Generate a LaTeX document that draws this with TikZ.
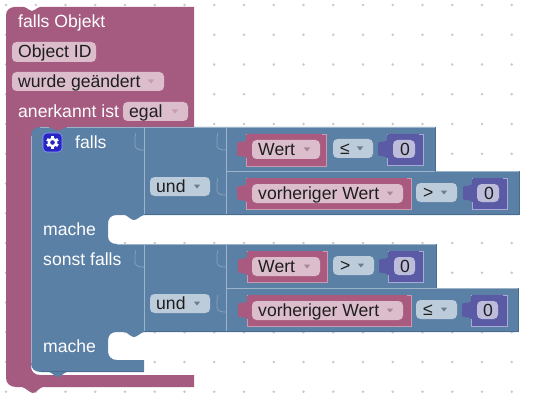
\documentclass[tikz,border=0pt]{standalone}
\usepackage{fontspec}
\setmainfont{Liberation Sans}
\definecolor{pinkblk}{HTML}{A55B80}
\definecolor{pinkval}{HTML}{AB5A7F}
\definecolor{blueblk}{HTML}{5B80A5}
\definecolor{purpblk}{HTML}{5B5BA5}
\definecolor{pinkfld}{HTML}{DBBDCC}
\definecolor{bluefld}{HTML}{BDCCDB}
\definecolor{purpfld}{HTML}{BDBDDB}
\definecolor{pinkedge}{HTML}{C99BB3}
\definecolor{blueedge}{HTML}{9DB3C9}
\definecolor{bluedark}{HTML}{476C90}
\definecolor{purpedge}{HTML}{A9A9D6}
\definecolor{griddot}{HTML}{C8C8C8}
\definecolor{ink}{HTML}{1E1E1E}
\tikzset{
  lbl/.style={font=\fontsize{17.6}{20}\selectfont,text=ink,inner sep=0pt,anchor=base west,yshift=-0.7pt},
  wlbl/.style={lbl,text=white},
  fldbox/.style={rounded corners=4.5pt,inner sep=0pt,outer sep=0pt,draw=none},
  socket/.style={draw=blueedge!70!blueblk,line width=.7pt},
  edgeline/.style={draw=blueedge,line width=.9pt},
}
% name, x1, y1, x2, y2, fill, text x, text, drop colour (empty: none)
\newcommand{\fld}[9]{%
  \pgfmathsetmacro{\fcx}{(#2+#4)/2}\pgfmathsetmacro{\fcy}{(#3+#5)/2}%
  \pgfmathsetmacro{\fw}{#4-#2}\pgfmathsetmacro{\fh}{#5-#3}%
  \node[fldbox,fill=#6,minimum width=\fw pt,minimum height=\fh pt] (#1) at (\fcx,\fcy) {};%
  \pgfmathsetmacro{\fb}{#3+15}%
  \node[lbl] (#1t) at (#7,\fb) {#8};%
  \if\relax\detokenize{#9}\relax\else
    \pgfmathsetmacro{\tx}{#4-13}\pgfmathsetmacro{\ty}{#3+7.5}\pgfmathsetmacro{\tz}{#3+11.5}%
    \fill[#9] (\tx-3.2,\ty) -- (\tx+3.2,\ty) -- (\tx,\tz) -- cycle;%
  \fi}
% x1, y1, x2, y2, fill, edge
\newcommand{\valblk}[6]{%
  \pgfmathsetmacro{\va}{#2+6}\pgfmathsetmacro{\vb}{#2+9}\pgfmathsetmacro{\vc}{#2+21}\pgfmathsetmacro{\vd}{#2+24}%
  \pgfmathsetmacro{\vt}{#1-9}%
  \fill[#5] (#1,#2) -- (#3,#2) -- (#3,#4) -- (#1,#4) -- (#1,\vd)
    .. controls (#1-2,\vd-3) and (\vt+1,\vc+2) .. (\vt,\vc) -- (\vt,\vb)
    .. controls (\vt+1,\vb-2) and (#1-2,\va+3) .. (#1,\va) -- cycle;
  \draw[#6,line width=.8pt] (#1,\vd) -- (#1,#4) -- (#3,#4) -- (#3,#2);
  \draw[#6,line width=.5pt] (#1,#2) -- (#1+1,#2) (#3-4,#2) -- (#3,#2);}
\newcommand{\sock}[2]{%
  \pgfmathsetmacro{\sa}{#2+13}\pgfmathsetmacro{\sb}{#2+17}\pgfmathsetmacro{\sx}{#1-9}%
  \draw[socket] (\sx+1,#2) .. controls (\sx,#2+3) .. (\sx,\sa) .. controls (\sx+1,\sb) and (#1-3,\sb) .. (#1,\sb);}
\begin{document}
\begin{tikzpicture}[x=1pt,y=-1pt]
\useasboundingbox (0,0) rectangle (540,406);
\fill[white] (0,0) rectangle (540,406);
% grid dots
\foreach \i in {0,...,17} \foreach \j in {0,...,13} {
  \fill[griddot] ({6+29.75*\i},{5+29.75*\j}) circle (1.3pt);
}
% main pink block
\fill[pinkblk] (6,15) .. controls (6,10) and (10,7) .. (15,7) -- (24,7)
  .. controls (28,8) and (29,11) .. (32,11) .. controls (35,11) and (36,8) .. (40,7)
  -- (194,7) -- (194,135) -- (31,135) -- (31,366) .. controls (31,371) and (34,375) .. (40,375)
  -- (194,375) -- (194,387) -- (43,387) .. controls (39,388) and (36,393) .. (33,393)
  .. controls (30,393) and (26,388) .. (22,387) -- (16,387)
  .. controls (10,387) and (6,383) .. (6,378) -- cycle;
% blue if-block
\fill[blueblk] (31,136) .. controls (31,131) and (34,127) .. (40,127) -- (49,127)
  .. controls (53,128) and (55,131) .. (58,131) .. controls (61,131) and (63,128) .. (67,127)
  -- (435,127) -- (435,171) -- (519,171) -- (519,215) -- (144,215)
  .. controls (140,216) and (137,220) .. (134,220) .. controls (131,220) and (128,216) .. (125,215)
  -- (117,215) .. controls (111,215) and (108,218) .. (108,224) -- (108,236)
  .. controls (108,241) and (111,244) .. (117,244)
  -- (436,244) -- (436,288) -- (518,288) -- (518,332) -- (144,332)
  .. controls (140,333) and (137,337) .. (134,337) .. controls (131,337) and (128,333) .. (125,332)
  -- (117,332) .. controls (111,332) and (108,335) .. (108,341) -- (108,351)
  .. controls (108,356) and (111,360) .. (117,360) -- (144,360) -- (144,372) -- (67,372)
  .. controls (63,373) and (61,377) .. (58,377) .. controls (55,377) and (53,373) .. (49,372)
  -- (41,372) .. controls (35,372) and (31,369) .. (31,363) -- cycle;
% blue edges
\draw[edgeline] (144,127) -- (144,215) (226,127) -- (226,215) (226,171) -- (435,171)
  (144,244) -- (144,332) (226,244) -- (226,332) (226,288) -- (436,288);
\draw[edgeline,line width=.6pt] (40,127) -- (49,127) (67,127) -- (435,127) (436,171) -- (519,171)
  (117,244) -- (436,244) (436,288) -- (518,288) (31,136) -- (31,363);
\draw[bluedark,line width=1pt] (144,214.6) -- (519,214.6) (519,171) -- (519,215) (435,127) -- (435,171)
  (144,331.6) -- (518,331.6) (518,288) -- (518,332) (436,244) -- (436,288) (41,371.6) -- (144,371.6);
% sockets
\sock{144}{133}\sock{226}{133}\sock{226}{178}
\sock{144}{250}\sock{226}{250}\sock{226}{295}
% pink block fields
\node[wlbl] (title) at (18,27) {falls Objekt};
\fld{oid}{12}{42}{96}{62}{pinkfld}{18}{Object ID}{}
\fld{chg}{12}{72}{164}{91}{pinkfld}{18}{wurde geändert}{pinkedge}
\node[wlbl] (ack) at (18,117) {anerkannt ist};
\fld{egal}{123}{102}{188}{121}{pinkfld}{129}{egal}{pinkedge}
% gear
\draw[fill=blue!72!black!85,draw=blue!40!white,line width=.6pt,rounded corners=4pt] (43,133) rectangle (62,152);
\foreach \a in {0,60,...,300} \fill[white,rotate around={\a:(52.5,142.5)}] (51.2,136.3) rectangle (53.8,148.7);
\fill[white] (52.5,142.5) circle (4.9pt);
\fill[blue!72!black!85] (52.5,142.5) circle (2.3pt);
% blue labels
\node[wlbl] (falls) at (75,148) {falls};
\node[wlbl] (mache1) at (43,235) {mache};
\node[wlbl] (sonst) at (43,265) {sonst falls};
\node[wlbl] (mache2) at (43,352) {mache};
\fld{und1}{150}{177}{210}{196}{bluefld}{156}{und}{blueedge!70!black}
\fld{und2}{150}{294}{210}{313}{bluefld}{156}{und}{blueedge!70!black}
% row 1
\valblk{246}{134}{326}{166}{pinkval}{pinkedge}
\fld{w1}{252}{140}{320}{159}{pinkfld}{258}{Wert}{pinkedge!85!black}
\fld{op1}{333}{139}{373}{158}{bluefld}{340}{≤}{blueedge!70!black}
\valblk{387}{134}{423}{165}{purpblk}{purpedge}
\fld{n1}{393}{140}{415}{158}{purpfld}{400}{0}{}
% row 2
\valblk{246}{178}{411}{209}{pinkval}{pinkedge}
\fld{w2}{252}{184}{403}{203}{pinkfld}{258}{vorheriger Wert}{pinkedge!85!black}
\fld{op2}{416}{183}{457}{202}{bluefld}{423}{>}{blueedge!70!black}
\valblk{472}{178}{507}{209}{purpblk}{purpedge}
\fld{n2}{477}{184}{499}{202}{purpfld}{484}{0}{}
% row 3
\valblk{247}{251}{327}{282}{pinkval}{pinkedge}
\fld{w3}{252}{257}{320}{276}{pinkfld}{258}{Wert}{pinkedge!85!black}
\fld{op3}{333}{256}{374}{275}{bluefld}{340}{>}{blueedge!70!black}
\valblk{388}{251}{423}{282}{purpblk}{purpedge}
\fld{n3}{394}{257}{415}{275}{purpfld}{400}{0}{}
% row 4
\valblk{247}{295}{411}{326}{pinkval}{pinkedge}
\fld{w4}{252}{301}{403}{320}{pinkfld}{258}{vorheriger Wert}{pinkedge!85!black}
\fld{op4}{416}{300}{457}{319}{bluefld}{423}{≤}{blueedge!70!black}
\valblk{471}{295}{507}{326}{purpblk}{purpedge}
\fld{n4}{477}{301}{498}{319}{purpfld}{483}{0}{}
\end{tikzpicture}
\end{document}
